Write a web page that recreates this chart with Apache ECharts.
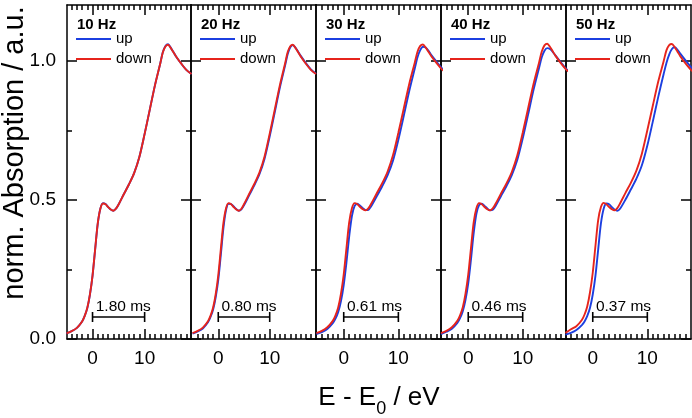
<!DOCTYPE html>
<html><head><meta charset="utf-8">
<script src="https://cdn.jsdelivr.net/npm/echarts@6/dist/echarts.min.js"></script>
<style>html,body{margin:0;padding:0;background:#fff}#c{width:692px;height:418px}</style>
</head><body><div id="c"></div>
<script>
// ---------- data ----------
const panelLabels = ['10 Hz', '20 Hz', '30 Hz', '40 Hz', '50 Hz'];
const scaleBarLabels = ['1.80 ms', '0.80 ms', '0.61 ms', '0.46 ms', '0.37 ms'];
const seriesNames = ['up', 'down'];
const energy = [-5,-4,-3,-2,-1.5,-1,-0.5,0,0.5,1,1.5,2,2.5,3,3.5,4,4.5,5,6,7,8,9,10,11,12,13,13.5,14,14.5,15,15.5,16,17,18,19];

const up10   = [0.020,0.028,0.040,0.063,0.083,0.111,0.159,0.227,0.321,0.414,0.468,0.488,0.485,0.474,0.465,0.461,0.468,0.483,0.520,0.556,0.597,0.655,0.737,0.825,0.913,0.990,1.031,1.053,1.059,1.047,1.032,1.016,0.990,0.967,0.952];
const down10 = [0.020,0.028,0.040,0.063,0.083,0.112,0.160,0.228,0.322,0.415,0.468,0.487,0.484,0.474,0.465,0.461,0.468,0.483,0.520,0.556,0.597,0.655,0.737,0.825,0.913,0.990,1.030,1.051,1.057,1.046,1.031,1.016,0.990,0.967,0.952];
const up20   = [0.019,0.027,0.038,0.060,0.079,0.106,0.150,0.212,0.303,0.398,0.462,0.486,0.485,0.476,0.467,0.461,0.466,0.480,0.516,0.552,0.592,0.648,0.728,0.816,0.905,0.983,1.024,1.048,1.056,1.047,1.033,1.018,0.992,0.969,0.953];
const down20 = [0.021,0.029,0.041,0.064,0.084,0.113,0.161,0.229,0.323,0.416,0.469,0.488,0.484,0.474,0.465,0.461,0.468,0.484,0.521,0.557,0.598,0.656,0.738,0.826,0.914,0.991,1.031,1.052,1.057,1.046,1.031,1.016,0.990,0.967,0.952];
const up30   = [0.018,0.025,0.036,0.057,0.073,0.097,0.136,0.194,0.275,0.368,0.442,0.478,0.486,0.479,0.470,0.463,0.464,0.476,0.511,0.547,0.587,0.640,0.716,0.803,0.892,0.972,1.012,1.038,1.050,1.047,1.036,1.021,0.996,0.972,0.955];
const down30 = [0.021,0.029,0.042,0.065,0.085,0.114,0.163,0.231,0.326,0.419,0.470,0.488,0.484,0.474,0.466,0.462,0.469,0.485,0.522,0.558,0.600,0.659,0.741,0.829,0.917,0.993,1.032,1.053,1.058,1.047,1.032,1.017,0.991,0.968,0.953];
const up40   = [0.018,0.026,0.037,0.058,0.075,0.100,0.141,0.200,0.285,0.380,0.450,0.481,0.486,0.478,0.469,0.462,0.464,0.477,0.513,0.549,0.589,0.643,0.720,0.807,0.896,0.974,1.012,1.036,1.045,1.042,1.032,1.019,0.994,0.970,0.954];
const down40 = [0.021,0.029,0.042,0.065,0.085,0.114,0.163,0.231,0.326,0.419,0.470,0.488,0.484,0.474,0.466,0.462,0.469,0.485,0.522,0.558,0.600,0.659,0.741,0.829,0.917,0.993,1.033,1.055,1.061,1.050,1.034,1.018,0.991,0.968,0.953];
const up50   = [0.016,0.022,0.032,0.050,0.063,0.083,0.112,0.160,0.228,0.322,0.415,0.468,0.487,0.484,0.474,0.465,0.461,0.468,0.501,0.538,0.576,0.624,0.695,0.781,0.870,0.953,0.992,1.022,1.042,1.048,1.040,1.026,1.001,0.977,0.958];
const down50 = [0.022,0.035,0.046,0.068,0.088,0.118,0.168,0.238,0.335,0.428,0.474,0.489,0.484,0.474,0.466,0.462,0.470,0.487,0.525,0.562,0.605,0.666,0.750,0.838,0.925,0.999,1.037,1.056,1.060,1.049,1.033,1.017,0.990,0.967,0.952];

const upSets = [up10, up20, up30, up40, up50];
const downSets = [down10, down20, down30, down40, down50];

const xMinByPanel = [-4.9, -5.3, -5.07, -5.0, -4.9];
const xMaxByPanel = [18.9, 19.0, 17.8, 17.95, 18.0];
const xMajorTicks = [0, 10];
const xMinorTicks = [-4,-3,-2,-1,1,2,3,4,5,6,7,8,9,11,12,13,14,15,16,17,18];
const yMajorTicks = [0, 0.5, 1.0];
const yMinorTicks = [0.25, 0.75];
const yMin = 0, yMax = 1.2;
const scaleBarFrom = 0, scaleBarTo = 10, scaleBarLevel = 0.079;

// ---------- layout / style ----------
const edges = [67, 191, 316, 441, 566, 691];
const FONT = 'Liberation Sans, Arial, Helvetica, sans-serif';
const BLUE = '#1c3fe0', RED = '#e6241c';
const AX = {color: '#000', width: 1.5};

const grid = [], xAxis = [], yAxis = [], series = [], legend = [], title = [];
for (let i = 0; i < 5; i++) {
  grid.push({left: edges[i], width: edges[i+1] - edges[i], top: 5, height: 334,
             containLabel: false, outerBoundsMode: 'none'});
  const minors = xMinorTicks.filter(v => v > xMinByPanel[i] && v < xMaxByPanel[i]);
  const base = {type: 'value', gridIndex: i, min: xMinByPanel[i], max: xMaxByPanel[i], splitLine: {show: false}};
  const lineOn = {show: true, onZero: false, lineStyle: AX};
  const lineOff = {show: false, onZero: false};
  // x axes: bottom major, bottom minor, top major, top minor
  xAxis.push(Object.assign({}, base, {position: 'bottom', axisLine: lineOn,
    axisTick: {show: true, inside: true, length: 10, customValues: xMajorTicks, lineStyle: AX},
    axisLabel: {show: true, customValues: xMajorTicks, fontSize: 19, color: '#000', fontFamily: FONT, margin: 10}}));
  xAxis.push(Object.assign({}, base, {position: 'bottom', axisLine: lineOff,
    axisTick: {show: true, inside: true, length: 5, customValues: minors, lineStyle: AX},
    axisLabel: {show: false}}));
  xAxis.push(Object.assign({}, base, {position: 'top', axisLine: lineOn,
    axisTick: {show: true, inside: true, length: 10, customValues: xMajorTicks, lineStyle: AX},
    axisLabel: {show: false}}));
  xAxis.push(Object.assign({}, base, {position: 'top', axisLine: lineOff,
    axisTick: {show: true, inside: true, length: 5, customValues: minors, lineStyle: AX},
    axisLabel: {show: false}}));
  const ybase = {type: 'value', gridIndex: i, min: yMin, max: yMax, splitLine: {show: false}};
  yAxis.push(Object.assign({}, ybase, {position: 'left', axisLine: lineOn,
    axisTick: {show: true, inside: true, length: 10, customValues: yMajorTicks, lineStyle: AX},
    axisLabel: {show: i === 0, customValues: yMajorTicks, fontSize: 19, color: '#000', fontFamily: FONT, margin: 11,
                formatter: v => v.toFixed(1)}}));
  yAxis.push(Object.assign({}, ybase, {position: 'left', axisLine: lineOff,
    axisTick: {show: true, inside: true, length: 5, customValues: yMinorTicks, lineStyle: AX},
    axisLabel: {show: false}}));
  yAxis.push(Object.assign({}, ybase, {position: 'right', axisLine: lineOn,
    axisTick: {show: true, inside: true, length: 10, customValues: yMajorTicks, lineStyle: AX},
    axisLabel: {show: false}}));
  yAxis.push(Object.assign({}, ybase, {position: 'right', axisLine: lineOff,
    axisTick: {show: true, inside: true, length: 5, customValues: yMinorTicks, lineStyle: AX},
    axisLabel: {show: false}}));

  const xi = 4 * i, yi = 4 * i;
  series.push({name: seriesNames[0], type: 'line', xAxisIndex: xi, yAxisIndex: yi, smooth: 0.3, showSymbol: false,
    data: energy.map((e, k) => [e, upSets[i][k]]), lineStyle: {color: BLUE, width: 1.9}, itemStyle: {color: BLUE}, z: 3});
  series.push({name: seriesNames[1], type: 'line', xAxisIndex: xi, yAxisIndex: yi, smooth: 0.3, showSymbol: false,
    data: energy.map((e, k) => [e, downSets[i][k]]), lineStyle: {color: RED, width: 1.9}, itemStyle: {color: RED}, z: 4});
  series.push({name: 'scale' + i, type: 'line', xAxisIndex: xi, yAxisIndex: yi, silent: true,
    symbol: 'rect', symbolSize: [1.6, 10], showSymbol: true,
    lineStyle: {color: '#000', width: 1.6}, itemStyle: {color: '#000'}, z: 5,
    data: [
      {value: [scaleBarFrom, scaleBarLevel], label: {show: true, formatter: scaleBarLabels[i], position: [4, -5],
        align: 'left', verticalAlign: 'middle', fontSize: 15.5, color: '#000', fontFamily: FONT}},
      {value: [scaleBarTo, scaleBarLevel]}
    ]});

  legend.push({left: edges[i] + 9, top: 31, orient: 'vertical', itemWidth: 35, itemHeight: 2, icon: 'rect',
    itemGap: 4, padding: 0, selectedMode: false, data: seriesNames,
    textStyle: {fontSize: 15, color: '#000', fontFamily: FONT, lineHeight: 16}});
  title.push({text: panelLabels[i], left: edges[i] + 10, top: 17, padding: 0,
    textStyle: {fontSize: 15, fontWeight: 'bold', color: '#000', fontFamily: FONT}});
}

// x-axis title with subscript
const cv = document.createElement('canvas').getContext('2d');
const tFont = 26, sFont = 18;
cv.font = tFont + 'px ' + FONT;
const w1 = cv.measureText('E - E').width, w3 = cv.measureText(' / eV').width;
cv.font = sFont + 'px ' + FONT;
const w2 = cv.measureText('0').width;
const cx = (edges[0] + edges[5]) / 2, total = w1 + w2 + w3, x0 = cx - total / 2;
const tStyle = {fill: '#000', font: tFont + 'px ' + FONT, textVerticalAlign: 'middle', textAlign: 'left'};

const chart = echarts.init(document.getElementById('c'), null, {renderer: 'canvas'});
chart.setOption({
  animation: false,
  backgroundColor: '#fff',
  title, legend, grid, xAxis, yAxis, series,
  graphic: [
    {type: 'text', x: 15, y: 153, rotation: Math.PI / 2,
     style: {text: 'norm. Absorption / a.u.', fill: '#000', font: '29px ' + FONT, textAlign: 'center', textVerticalAlign: 'middle'}},
    {type: 'text', x: x0, y: 398, style: Object.assign({}, tStyle, {text: 'E - E'})},
    {type: 'text', x: x0 + w1, y: 409, style: {text: '0', fill: '#000', font: sFont + 'px ' + FONT, textVerticalAlign: 'middle', textAlign: 'left'}},
    {type: 'text', x: x0 + w1 + w2, y: 398, style: Object.assign({}, tStyle, {text: ' / eV'})}
  ]
});
</script>
</body></html>
